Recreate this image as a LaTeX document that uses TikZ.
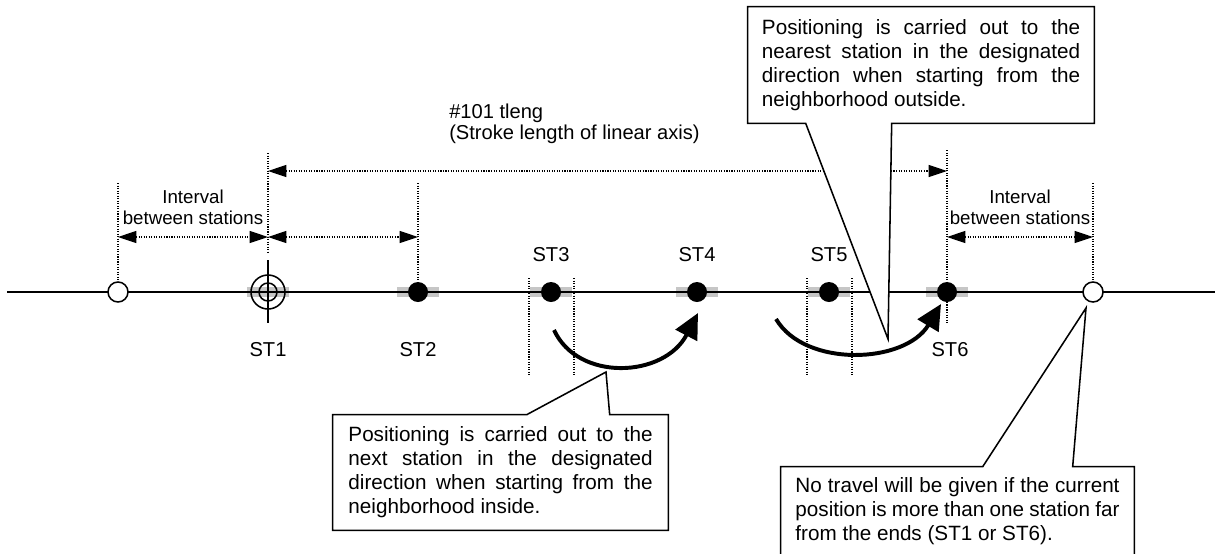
\documentclass[tikz,border=0pt]{standalone}
\usepackage{fontspec}
\setmainfont{Liberation Sans}
\usetikzlibrary{arrows.meta, calc}
\tikzset{
  axis/.style={line width=1.4pt},
  guide/.style={densely dotted, line width=0.8pt},
  dim/.style={densely dotted, line width=0.8pt,
              {Triangle[length=13pt, width=8.5pt]}-{Triangle[length=13pt, width=8.5pt]}},
  hatch/.style={fill=gray!45},
  stdot/.style={circle, fill=black, minimum size=0.5cm, inner sep=0pt},
  stopen/.style={circle, draw, line width=1.1pt, fill=white,
                 minimum size=0.5cm, inner sep=0pt},
  sttarget/.style={circle, draw, line width=1.1pt, minimum size=0.85cm, inner sep=0pt},
  stlabel/.style={font=\fontsize{14.3pt}{17pt}\selectfont, inner sep=0pt},
  gaplabel/.style={font=\fontsize{13.3pt}{15pt}\selectfont, align=center, inner sep=0pt},
  move/.style={line width=2.8pt, -{Triangle[length=18pt, width=17pt]}},
  note/.style={fill=white, align=justify, inner ysep=0pt,
               font=\fontsize{14.7pt}{17pt}\selectfont},
  noteline/.style={line width=1.1pt, line join=miter}
}

\begin{document}
\begin{tikzpicture}[x=0.025cm, y=-0.025cm]
  \useasboundingbox (0,0) rectangle (1215,553);

  % station positions
  \foreach \x/\n in {268/1, 418/2, 551/3, 697/4, 829/5, 947/6}
    \coordinate (s\n) at (\x,292);
  \coordinate (lo) at (118,292);
  \coordinate (ro) at (1093,292);
  \coordinate (axl) at (7,292);
  \coordinate (axr) at (1215,292);

  % neighbourhoods and axis
  \foreach \n in {1,...,6}
    \fill[hatch] ($(s\n)+(-21,-5)$) rectangle ($(s\n)+(21,5)$);
  \draw[axis] (axl) -- (axr);

  % guide lines
  \draw[guide] (lo |- 0,183) -- (lo |- 0,283);
  \draw[guide] (s1 |- 0,153) -- (s1 |- 0,253);
  \draw[guide] (s2 |- 0,183) -- (s2 |- 0,281);
  \draw[guide] (s6 |- 0,150) -- (s6 |- 0,323);
  \draw[guide] (ro |- 0,183) -- (ro |- 0,283);
  \foreach \n in {3,5} {
    \draw[guide] ($(s\n)+(-22,-14)$) -- ($(s\n)+(-22,83)$);
    \draw[guide] ($(s\n)+(23,-14)$) -- ($(s\n)+(23,83)$);
  }

  % dimensions
  \draw[dim] (lo |- 0,237) -- (s1 |- 0,237);
  \draw[dim] (s1 |- 0,237) -- (s2 |- 0,237);
  \draw[dim] (s6 |- 0,237) -- (ro |- 0,237);
  \draw[dim] (s1 |- 0,171) -- (s6 |- 0,171);
  \node[gaplabel] (gl) at (193,207) {Interval\\between stations};
  \node[gaplabel] (gr) at (1020,207) {Interval\\between stations};
  \node[anchor=west, align=left, inner sep=0pt,
        font=\fontsize{14.3pt}{15pt}\selectfont] (len) at (449,124)
    {\#101 tleng\\(Stroke length of linear axis)};

  % stations
  \node[stopen] (ol) at (lo) {};
  \node[stopen] (or) at (ro) {};
  \node[sttarget] (st1) at (s1) {};
  \draw[line width=1.1pt] (st1.center) circle[radius=0.225cm];
  \draw[line width=1.4pt] ($(st1)+(0,-32)$) -- ($(st1)+(0,31)$);
  \foreach \n in {2,...,6}
    \node[stdot] (st\n) at (s\n) {};

  \node[stlabel] (l1) at (268,350) {ST1};
  \node[stlabel] (l2) at (418,350) {ST2};
  \node[stlabel] (l3) at (551,255) {ST3};
  \node[stlabel] (l4) at (697,255) {ST4};
  \node[stlabel] (l5) at (829,255) {ST5};
  \node[stlabel] (l6) at (950,350) {ST6};

  % moves
  \coordinate (m1) at (554,330);
  \coordinate (m2) at (776,319);
  \draw[move] (m1) .. controls (578,382) and (664,378) .. ($(st4)+(1,21)$);
  \draw[move] (m2) .. controls (805,368) and (905,364) .. ($(st6)+(-6,12)$);

  % callouts
  \node[note, text width=7.95cm, inner xsep=0.35cm, minimum height=2.9cm] (n1) at (921,65)
    {Positioning is carried out to the\linebreak nearest station in the designated\linebreak
     direction when starting from the\linebreak neighborhood outside.};
  \coordinate (t1) at (888,339);
  \fill[white] ($(n1.south west)+(58,0)$) -- (t1) -- ($(n1.south west)+(144,0)$) -- cycle;
  \draw[noteline] (n1.south west) -- (n1.north west) -- (n1.north east) -- (n1.south east)
    -- ($(n1.south west)+(144,0)$) -- (t1) -- ($(n1.south west)+(58,0)$) -- cycle;

  \node[note, text width=7.6cm, inner xsep=0.3875cm, minimum height=2.875cm] (n2) at (500.5,472.5)
    {Positioning is carried out to the\linebreak next station in the designated\linebreak
     direction when starting from the\linebreak neighborhood inside.};
  \coordinate (t2) at (606,372);
  \fill[white] ($(n2.north west)+(194,0)$) -- (t2) -- ($(n2.north west)+(277,0)$) -- cycle;
  \draw[noteline] (n2.north west) -- ($(n2.north west)+(194,0)$) -- (t2)
    -- ($(n2.north west)+(277,0)$) -- (n2.north east) -- (n2.south east) -- (n2.south west) -- cycle;

  \node[note, text width=8.1cm, inner xsep=0.3625cm, minimum height=2.2cm] (n3) at (957.5,511)
    {No travel will be given if the current\linebreak position is more than one station far\linebreak
     from the ends (ST1 or ST6).};
  \coordinate (t3) at (1086,308);
  \fill[white] ($(n3.north west)+(202,0)$) -- (t3) -- ($(n3.north west)+(292,0)$) -- cycle;
  \draw[noteline] (n3.north west) -- ($(n3.north west)+(202,0)$) -- (t3)
    -- ($(n3.north west)+(292,0)$) -- (n3.north east) -- (n3.south east) -- (n3.south west) -- cycle;
\end{tikzpicture}
\end{document}
